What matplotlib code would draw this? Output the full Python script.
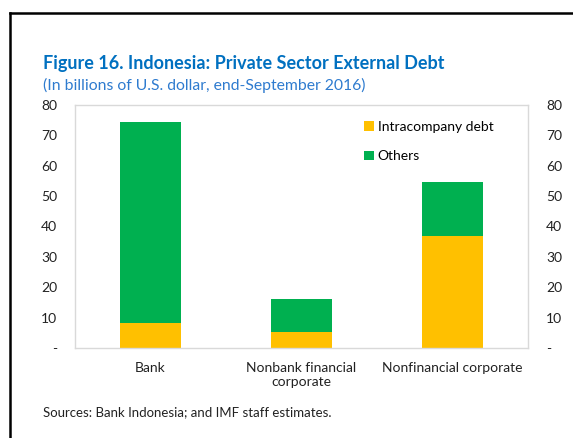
import matplotlib
matplotlib.use("Agg")
import matplotlib.pyplot as plt
from matplotlib.lines import Line2D
from matplotlib.patches import Patch

plt.rcParams['font.family'] = ['Lato', 'DejaVu Sans']

categories = ["Bank", "Nonbank financial\ncorporate", "Nonfinancial corporate"]
intracompany = [8.2, 5.2, 36.9]
others = [66.2, 10.8, 17.7]
yticks = [0, 10, 20, 30, 40, 50, 60, 70, 80]
ytick_labels = ["-", "10", "20", "30", "40", "50", "60", "70", "80"]

c_intra = "#FFC000"
c_others = "#00B050"

fig = plt.figure(figsize=(5.73, 4.38), dpi=100)
ax = fig.add_axes([0.1309, 0.2055, 0.7906, 0.5548])

x = list(range(len(categories)))
ax.bar(x, intracompany, width=0.4, color=c_intra, label="Intracompany debt")
ax.bar(x, others, width=0.4, bottom=intracompany, color=c_others, label="Others")

ax.set_xlim(-0.5, 2.5)
ax.set_ylim(0, 80)
ax.set_yticks(yticks)
ax.set_yticklabels(ytick_labels)
ax.set_xticks(x)
ax.set_xticklabels(categories)
ax.tick_params(axis='y', length=0, labelsize=10, pad=13, labelright=True, right=False)
ax.tick_params(axis='x', length=0, labelsize=10, pad=10)
for lab in ax.get_yticklabels():
    lab.set_color("#222222")
for lab in ax.get_xticklabels():
    lab.set_color("#222222")
for s in ax.spines.values():
    s.set_color("#d9d9d9")
    s.set_linewidth(1.0)

handles = [Patch(facecolor=c_intra), Patch(facecolor=c_others)]
leg = ax.legend(handles, ["Intracompany debt", "Others"], loc="upper left",
                bbox_to_anchor=(0.61, 0.985), frameon=False, fontsize=10,
                handlelength=0.7, handleheight=0.7, handletextpad=0.3,
                labelspacing=1.25)

fig.text(43 / 573, 1 - 63 / 438, "Figure 16. Indonesia: Private Sector External Debt",
         fontsize=13, fontweight="bold", color="#0070C0", va="center", ha="left")
fig.text(43 / 573, 1 - 85 / 438, "(In billions of U.S. dollar, end-September 2016)",
         fontsize=11.3, color="#2E7BCF", va="center", ha="left")
fig.text(43 / 573, 1 - 412 / 438, "Sources: Bank Indonesia; and IMF staff estimates.",
         fontsize=9.5, color="#222222", va="center", ha="left")

# outer frame lines
fig.add_artist(Line2D([10 / 573, 10 / 573], [0, 1 - 13 / 438], color="black", lw=1.8,
                      transform=fig.transFigure))
fig.add_artist(Line2D([10 / 573, 1], [1 - 13 / 438, 1 - 13 / 438], color="black", lw=1.8,
                      transform=fig.transFigure))

fig.savefig("out.png", dpi=100)
